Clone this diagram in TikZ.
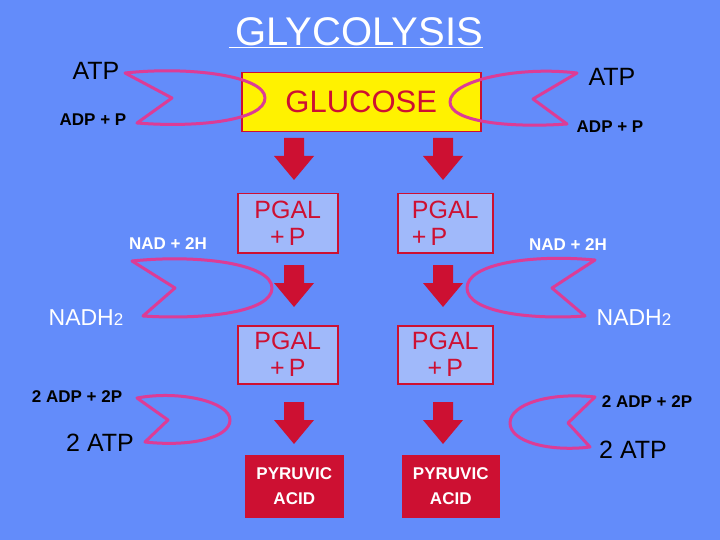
\documentclass[tikz,border=0pt]{standalone}
\usepackage{fontspec}
\setmainfont{Liberation Sans}
\definecolor{bg}{RGB}{99,140,250}
\definecolor{boxred}{RGB}{205,16,50}
\definecolor{loopc}{RGB}{220,60,150}
\definecolor{pgalfill}{RGB}{160,185,250}
\begin{document}
\begin{tikzpicture}[x=1pt,y=-1pt,
  box/.style={draw=boxred,line width=1.5pt,inner sep=0pt,anchor=north west},
  pgal/.style={box,fill=pgalfill,minimum height=59pt,text=boxred,font=\fontsize{25}{27}\selectfont},
  pyr/.style={box,fill=boxred,minimum height=61pt,text=white,font=\bfseries\fontsize{17}{25}\selectfont,align=center},
  loop/.style={draw=loopc,line width=3pt,line join=round},
  down/.style={fill=boxred},
  lab/.style={font=\bfseries\fontsize{17}{17}\selectfont},
  big/.style={font=\fontsize{25}{25}\selectfont},
  nadh/.style={white,font=\fontsize{23}{23}\selectfont}]
\fill[bg] (0,0) rectangle (720,540);
\useasboundingbox (0,0) rectangle (720,540);
% title
\node[white,font=\fontsize{40}{40}\selectfont] (title) at (356,33) {\underline{\,GLYCOLYSIS}};
% boxes
\node[box,fill=yellow,minimum width=239pt,minimum height=59pt,text=boxred,font=\fontsize{31}{31}\selectfont] (glu) at (241,72) {GLUCOSE};
\node[pgal,minimum width=100pt,align=center] (p1) at (237,193) {PGAL\\+\,P};
\node[pgal,minimum width=95pt,align=left] (p2) at (397,193) {PGAL\\+\,P};
\node[pgal,minimum width=100pt,minimum height=58pt,align=center] (p3) at (237,325) {PGAL\\+\,P};
\node[pgal,minimum width=95pt,minimum height=58pt,align=center] (p4) at (397,325) {PGAL\\+\,P};
\node[pyr,minimum width=97pt] (py1) at (245,455) {PYRUVIC\\ACID};
\node[pyr,minimum width=96pt] (py2) at (402,455) {PYRUVIC\\ACID};
% down arrows
\foreach \cx in {294,443}{
  \foreach \ty in {138,265,402}{
    \fill[down] (\cx-10,\ty) -- (\cx+10,\ty) -- (\cx+10,\ty+18) -- (\cx+20,\ty+18)
      -- (\cx,\ty+42) -- (\cx-20,\ty+18) -- (\cx-10,\ty+18) -- cycle;
  }
}
% loops left
\draw[loop] (125,73) -- (172,98) -- (137,123) .. controls (200,128) and (265,120) .. (265,98)
  .. controls (265,76) and (190,66) .. cycle;
\draw[loop] (132,261) -- (175,288) -- (143,316) .. controls (205,320) and (272,312) .. (272,288)
  .. controls (272,264) and (200,254) .. cycle;
\draw[loop] (137,398) -- (168,420) -- (145,442) .. controls (190,447) and (230,438) .. (230,420)
  .. controls (230,402) and (180,390) .. cycle;
% loops right
\draw[loop] (577,73) -- (533,99) -- (567,124) .. controls (510,128) and (450,122) .. (450,102)
  .. controls (450,80) and (520,66) .. cycle;
\draw[loop] (595,260) -- (552,288) -- (585,316) .. controls (530,320) and (467,312) .. (467,288)
  .. controls (467,264) and (530,254) .. cycle;
\draw[loop] (595,397) -- (568,423) -- (590,447) .. controls (550,452) and (510,442) .. (510,423)
  .. controls (510,404) and (550,392) .. cycle;
% labels left
\node[big] (l1) at (96,71) {ATP};
\node[lab] (l2) at (93,120) {ADP + P};
\node[lab,white] (l3) at (168,244) {NAD + 2H};
\node[nadh] (l4) at (86,318) {NADH{\fontsize{17}{17}\selectfont 2}};
\node[lab] (l5) at (77,397) {2 ADP + 2P};
\node[big] (l6) at (100,443) {2 ATP};
% labels right
\node[big] (r1) at (612,77) {ATP};
\node[lab] (r2) at (610,127) {ADP + P};
\node[lab,white] (r3) at (568,245) {NAD + 2H};
\node[nadh] (r4) at (634,318) {NADH{\fontsize{17}{17}\selectfont 2}};
\node[lab] (r5) at (647,402) {2 ADP + 2P};
\node[big] (r6) at (633,450) {2 ATP};
\end{tikzpicture}
\end{document}
